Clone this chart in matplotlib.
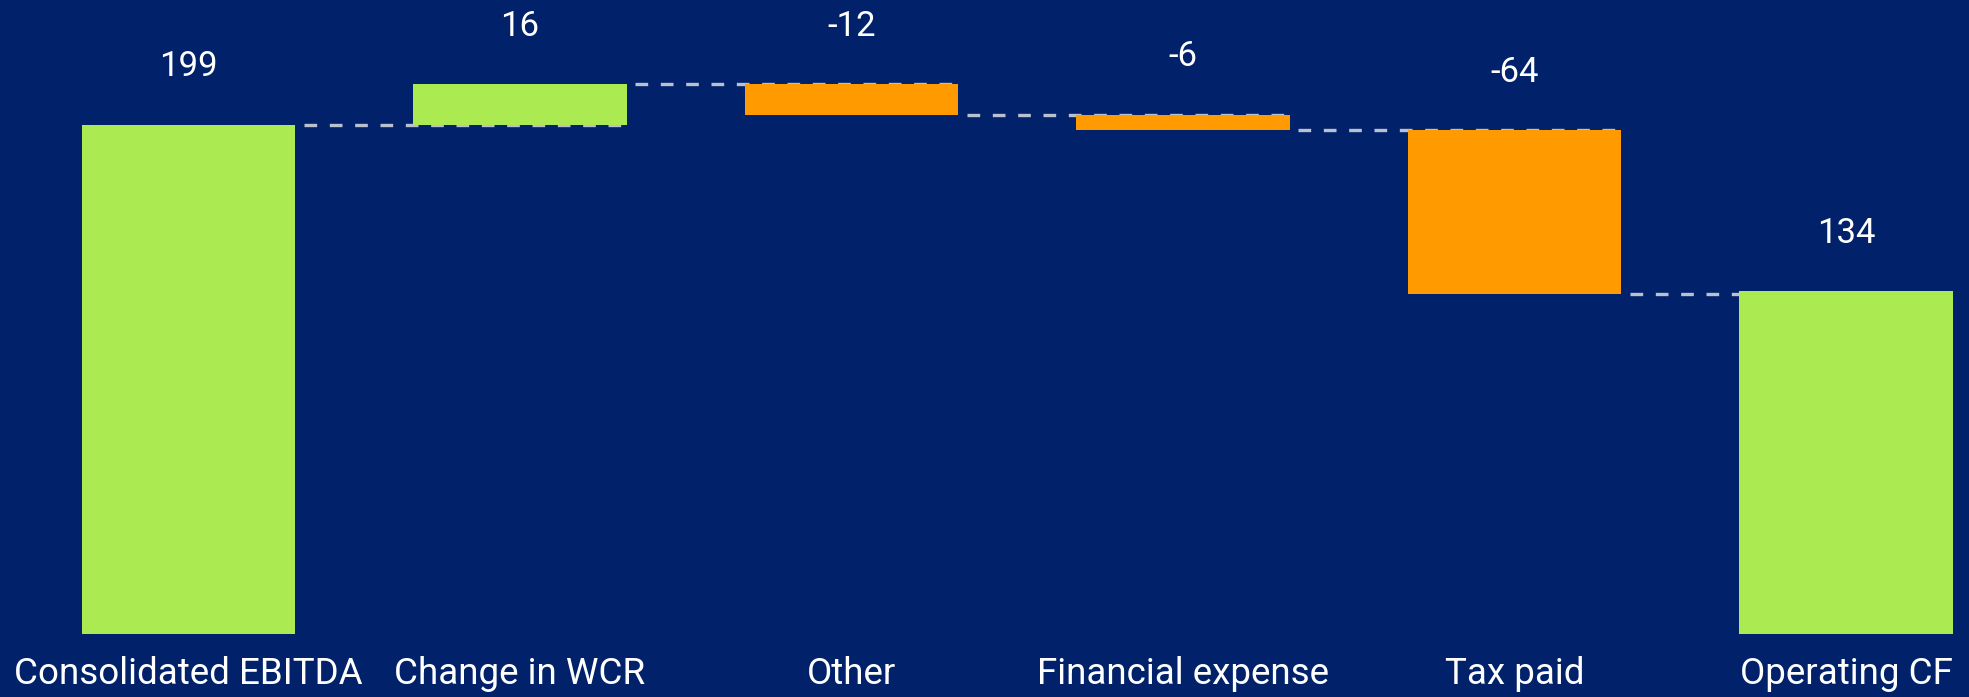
import matplotlib.pyplot as plt

# operating cash flow bridge
categories = ['Consolidated EBITDA', 'Change in WCR', 'Other',
              'Financial expense', 'Tax paid', 'Operating CF']
values = [199, 16, -12, -6, -64, 134]
is_total = [True, False, False, False, False, True]

BG = '#01226A'
GREEN = '#ABEB51'
ORANGE = '#FF9A00'
DASH = '#B9C0CF'

plt.rcParams['font.family'] = ['Roboto', 'DejaVu Sans']

fig = plt.figure(figsize=(19.69, 6.97), dpi=100, facecolor=BG)
ax = fig.add_axes([0, 0.0904, 1, 0.9096])
ax.set_facecolor(BG)

width = 0.644
running = 0
levels = []
for i, (v, tot) in enumerate(zip(values, is_total)):
    if tot:
        bottom, height = 0, v
        running = v
        color = GREEN
    else:
        bottom = running if v >= 0 else running + v
        height = abs(v)
        running += v
        color = GREEN if v >= 0 else ORANGE
    ax.bar(i, height, bottom=bottom, width=width, color=color, zorder=3)
    levels.append(running)
    ax.annotate(str(v), (i, bottom + height), xytext=(0, 42),
                textcoords='offset points', ha='center', va='center',
                color='white', fontsize=25)

# dashed connectors from each bar to the right edge of the next one
for i in range(len(values) - 1):
    x0 = i + width / 2 + 0.025
    x1 = i + 1 + width / 2
    ax.plot([x0, x1], [levels[i], levels[i]], color=DASH, lw=2.4,
            dashes=(3.8, 3.8), zorder=2)

ax.set_xlim(-0.5686, 5.371)
ax.set_ylim(0, 248)
ax.set_xticks(range(len(categories)))
ax.set_xticklabels(categories, color='white', fontsize=26.5)
ax.tick_params(axis='x', length=0, pad=16)
ax.set_yticks([])
for s in ax.spines.values():
    s.set_visible(False)

fig.savefig('out.png', dpi=100, facecolor=BG)
